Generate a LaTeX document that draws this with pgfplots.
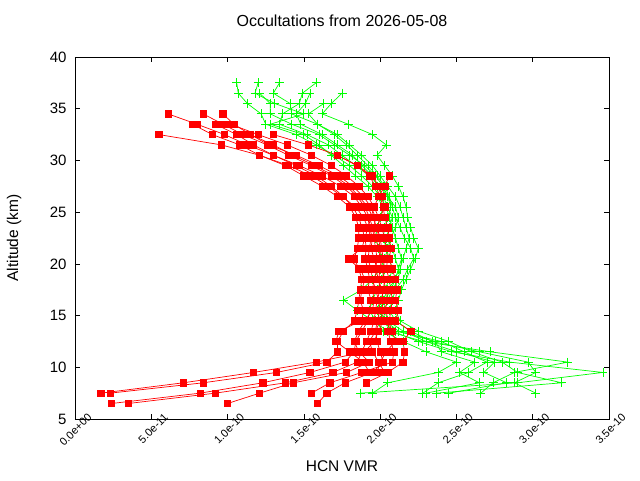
\documentclass[border=0pt]{standalone}
\usepackage{fontspec}
\setmainfont{Liberation Sans}
\usepackage{pgfplots}
\pgfplotsset{compat=1.18}
\definecolor{gpgreen}{RGB}{0,255,0}
\definecolor{gpred}{RGB}{255,0,0}
\begin{document}
\begin{tikzpicture}
\path[use as bounding box] (-75pt,-61pt) rectangle (565pt,419pt);
\begin{axis}[
  at={(0pt,0pt)}, anchor=south west,
  scale only axis, width=534pt, height=362pt,
  xmin=0, xmax=3.5, ymin=5, ymax=40,
  xtick={0,0.5,1,1.5,2,2.5,3,3.5},
  xticklabels={0.0e+00,5.0e-11,1.0e-10,1.5e-10,2.0e-10,2.5e-10,3.0e-10,3.5e-10},
  ytick={5,10,15,20,25,30,35,40},
  tick align=inside, major tick length=5pt,
  axis line style={line width=0.9pt},
  every tick/.style={black, line width=0.7pt},
  /pgf/number format/assume math mode=true,
  yticklabel style={font=\fontsize{15}{17}\selectfont, xshift=-5pt},
  xticklabel style={font=\fontsize{11}{13}\selectfont, rotate=45, anchor=east, inner sep=0pt, xshift=13pt, yshift=-8pt},
  xlabel={HCN VMR}, ylabel={Altitude (km)},
  xlabel style={font=\fontsize{15.5}{17}\selectfont, at={(axis description cs:0.5,-0.1298)}, anchor=center},
  ylabel style={font=\fontsize{15.5}{17}\selectfont, at={(axis description cs:-0.1142,0.5)}, anchor=center},
  title={Occultations from 2026-05-08},
  title style={font=\fontsize{16}{18}\selectfont, at={(axis description cs:0.5,1.0829)}, anchor=center},
  clip=true,
  green/.style={color=gpgreen, line width=0.7pt, mark=+, mark size=4.5pt, mark options={line width=0.8pt}},
  red/.style={color=gpred, line width=0.7pt, mark=square*, mark size=3.2pt},
]
% green profiles
\addplot[green] coordinates {(1.06,37.5)(1.07,36.5)(1.13,35.5)(1.22,34.5)(1.25,33.5)(1.45,32.5)(1.58,31.5)(1.70,30.5)(1.80,29.5)(1.88,28.5)(1.95,27.5)(2.00,26.5)(2.04,25.5)(2.06,24.5)(2.08,23.5)(2.10,22.5)(2.12,21.5)(2.14,20.5)(2.12,19.5)(2.10,18.5)(2.05,17.5)(2.02,16.5)(2.00,15.5)(2.02,14.5)(2.08,13.5)(2.25,12.5)(2.47,11.5)(2.85,10.5)(3.46,9.5)(2.90,8.5)(1.87,7.5)};
\addplot[green] coordinates {(1.34,37.5)(1.30,36.5)(1.41,35.5)(1.42,34.5)(1.59,33.5)(1.70,32.5)(1.78,31.5)(1.85,30.5)(1.92,29.5)(1.98,28.5)(2.03,27.5)(2.06,26.5)(2.08,25.5)(2.10,24.5)(2.13,23.5)(2.16,22.5)(2.20,21.5)(2.22,20.5)(2.18,19.5)(2.15,18.5)(2.10,17.5)(2.08,16.5)(2.06,15.5)(2.10,14.5)(2.20,13.5)(2.34,12.5)(2.65,11.5)(2.97,10.5)(3.02,9.5)(2.88,8.5)(3.02,7.5)};
\addplot[green] coordinates {(1.58,37.5)(1.49,36.5)(1.47,35.5)(1.36,34.5)(1.34,33.5)(1.52,32.5)(1.66,31.5)(1.75,30.5)(1.84,29.5)(1.93,28.5)(2.00,27.5)(2.05,26.5)(2.10,25.5)(2.12,24.5)(2.10,23.5)(2.07,22.5)(2.05,21.5)(2.03,20.5)(2.00,19.5)(1.95,18.5)(1.88,17.5)(1.76,16.5)(1.85,15.5)(1.95,14.5)(2.05,13.5)(2.28,12.5)(2.72,11.5)(3.23,10.5)(2.88,9.5)(2.74,8.5)(2.66,7.5)};
\addplot[green] coordinates {(1.21,36.5)(1.28,35.5)(1.28,34.5)(1.42,33.5)(1.60,32.5)(1.70,31.5)(1.80,30.5)(1.90,29.5)(1.97,28.5)(2.02,27.5)(2.05,26.5)(2.07,25.5)(2.05,24.5)(2.03,23.5)(2.02,22.5)(2.04,21.5)(2.06,20.5)(2.08,19.5)(2.06,18.5)(2.03,17.5)(2.00,16.5)(1.98,15.5)(2.00,14.5)(2.10,13.5)(2.40,12.5)(2.55,11.5)(2.70,10.5)(2.58,9.5)(2.38,8.5)(2.28,7.5)};
\addplot[green] coordinates {(1.75,36.5)(1.68,35.5)(1.62,34.5)(1.79,33.5)(1.95,32.5)(2.04,31.5)(1.98,30.5)(2.03,29.5)(2.08,28.5)(2.12,27.5)(2.15,26.5)(2.17,25.5)(2.18,24.5)(2.20,23.5)(2.22,22.5)(2.25,21.5)(2.23,20.5)(2.20,19.5)(2.17,18.5)(2.14,17.5)(2.12,16.5)(2.10,15.5)(2.13,14.5)(2.25,13.5)(2.45,12.5)(2.60,11.5)(2.80,10.5)(2.90,9.5)(3.19,8.5)(2.37,7.5)};
\addplot[green] coordinates {(1.20,37.5)(1.18,36.5)(1.31,35.5)(1.50,34.5)(1.28,33.5)(1.50,32.5)(1.60,31.5)(1.68,30.5)(1.76,29.5)(1.84,28.5)(1.92,27.5)(1.98,26.5)(2.02,25.5)(2.00,24.5)(1.98,23.5)(1.97,22.5)(1.99,21.5)(2.01,20.5)(2.03,19.5)(2.01,18.5)(1.98,17.5)(1.95,16.5)(1.93,15.5)(1.97,14.5)(2.02,13.5)(2.15,12.5)(2.30,11.5)(2.50,10.5)(2.38,9.5)(2.05,8.5)(1.95,7.5)};
\addplot[green] coordinates {(1.63,35.5)(1.53,34.5)(1.59,33.5)(1.72,32.5)(1.80,31.5)(1.88,30.5)(1.95,29.5)(2.00,28.5)(2.05,27.5)(2.10,26.5)(2.13,25.5)(2.15,24.5)(2.17,23.5)(2.19,22.5)(2.17,21.5)(2.15,20.5)(2.13,19.5)(2.12,18.5)(2.08,17.5)(2.05,16.5)(2.03,15.5)(2.05,14.5)(2.15,13.5)(2.30,12.5)(2.50,11.5)(2.75,10.5)(2.68,9.5)(2.83,8.5)(2.45,7.5)};
\addplot[green] coordinates {(1.54,36.5)(1.51,35.5)(1.45,34.5)(1.48,33.5)(1.62,32.5)(1.72,31.5)(1.82,30.5)(1.88,29.5)(1.95,28.5)(1.98,27.5)(2.02,26.5)(2.05,25.5)(2.08,24.5)(2.06,23.5)(2.04,22.5)(2.08,21.5)(2.10,20.5)(2.12,19.5)(2.10,18.5)(2.07,17.5)(2.03,16.5)(2.00,15.5)(2.03,14.5)(2.12,13.5)(2.36,12.5)(2.40,11.5)(2.62,10.5)(2.52,9.5)(2.65,8.5)(2.30,7.5)};
% red profiles
\addplot[red] coordinates {(0.61,34.5)(0.80,33.5)(0.98,32.5)(1.13,31.5)(1.30,30.5)(1.45,29.5)(1.58,28.5)(1.68,27.5)(1.76,26.5)(1.82,25.5)(1.86,24.5)(1.88,23.5)(1.90,22.5)(1.91,21.5)(1.90,20.5)(1.92,19.5)(1.93,18.5)(1.92,17.5)(1.94,16.5)(1.93,15.5)(1.92,14.5)(1.88,13.5)(1.84,12.5)(1.83,11.5)(1.77,10.5)(1.54,9.5)(1.23,8.5)(0.82,7.5)(0.24,6.5)};
\addplot[red] coordinates {(0.84,34.5)(0.97,33.5)(1.10,32.5)(1.26,31.5)(1.40,30.5)(1.55,29.5)(1.68,28.5)(1.78,27.5)(1.85,26.5)(1.90,25.5)(1.93,24.5)(1.95,23.5)(1.96,22.5)(1.97,21.5)(1.98,20.5)(1.97,19.5)(1.99,18.5)(2.00,17.5)(1.98,16.5)(1.97,15.5)(1.96,14.5)(1.94,13.5)(1.91,12.5)(1.88,11.5)(1.85,10.5)(1.69,9.5)(1.38,8.5)(0.92,7.5)(0.35,6.5)};
\addplot[red] coordinates {(0.97,34.5)(1.04,33.5)(1.15,32.5)(1.30,31.5)(1.43,30.5)(1.57,29.5)(1.70,28.5)(1.80,27.5)(1.86,26.5)(1.92,25.5)(1.95,24.5)(1.98,23.5)(2.00,22.5)(2.01,21.5)(2.02,20.5)(2.03,19.5)(2.02,18.5)(2.04,17.5)(2.05,16.5)(2.03,15.5)(2.02,14.5)(1.99,13.5)(1.96,12.5)(1.90,11.5)(1.58,10.5)(1.17,9.5)(0.71,8.5)(0.17,7.5)};
\addplot[red] coordinates {(0.77,33.5)(0.90,32.5)(1.08,31.5)(1.21,30.5)(1.38,29.5)(1.50,28.5)(1.62,27.5)(1.72,26.5)(1.80,25.5)(1.84,24.5)(1.86,23.5)(1.86,22.5)(1.85,21.5)(1.83,20.5)(1.86,19.5)(1.88,18.5)(1.87,17.5)(1.86,16.5)(1.85,15.5)(1.83,14.5)(1.76,13.5)(1.72,12.5)(1.72,11.5)(1.65,10.5)(1.32,9.5)(0.84,8.5)(0.23,7.5)};
\addplot[red] coordinates {(0.92,33.5)(1.06,32.5)(1.17,31.5)(1.30,30.5)(1.47,29.5)(1.62,28.5)(1.74,27.5)(1.83,26.5)(1.88,25.5)(1.92,24.5)(1.93,23.5)(1.95,22.5)(1.94,21.5)(1.96,20.5)(1.98,19.5)(1.96,18.5)(1.95,17.5)(1.96,16.5)(1.95,15.5)(1.90,14.5)(1.86,13.5)(1.83,12.5)(1.86,11.5)(1.93,10.5)(1.78,9.5)(1.43,8.5)(1.21,7.5)(1.00,6.5)};
\addplot[red] coordinates {(0.55,32.5)(0.96,31.5)(1.21,30.5)(1.40,29.5)(1.55,28.5)(1.66,27.5)(1.75,26.5)(1.84,25.5)(1.89,24.5)(1.92,23.5)(1.94,22.5)(1.93,21.5)(1.92,20.5)(1.94,19.5)(1.95,18.5)(1.97,17.5)(1.99,16.5)(2.00,15.5)(1.98,14.5)(1.97,13.5)(1.98,12.5)(2.00,11.5)(2.02,10.5)(1.95,9.5)(1.77,8.5)(1.65,7.5)(1.59,6.5)};
\addplot[red] coordinates {(1.02,33.5)(1.20,32.5)(1.39,31.5)(1.55,30.5)(1.68,29.5)(1.78,28.5)(1.86,27.5)(1.92,26.5)(1.96,25.5)(1.99,24.5)(2.01,23.5)(2.03,22.5)(2.04,21.5)(2.05,20.5)(2.04,19.5)(2.06,18.5)(2.07,17.5)(2.08,16.5)(2.07,15.5)(2.06,14.5)(2.05,13.5)(2.07,12.5)(2.09,11.5)(2.08,10.5)(1.88,9.5)(1.67,8.5)(1.55,7.5)};
\addplot[red] coordinates {(1.30,32.5)(1.53,31.5)(1.72,30.5)(1.85,29.5)(1.93,28.5)(1.97,27.5)(2.00,26.5)(2.02,25.5)(2.03,24.5)(2.05,23.5)(2.06,22.5)(2.07,21.5)(2.06,20.5)(2.08,19.5)(2.10,18.5)(2.11,17.5)(2.10,16.5)(2.12,15.5)(2.10,14.5)(2.20,13.5)(2.15,12.5)(2.16,11.5)(2.15,10.5)(2.05,9.5)(1.91,8.5)};
\addplot[red] coordinates {(1.72,30.5)(1.85,29.5)(1.95,28.5)(1.99,27.5)(2.01,26.5)(2.03,25.5)(2.00,24.5)(1.98,23.5)(1.99,22.5)(2.00,21.5)(2.01,20.5)(2.00,19.5)(1.99,18.5)(2.01,17.5)(2.02,16.5)(2.04,15.5)(2.05,14.5)(2.08,13.5)(2.10,12.5)(2.04,11.5)(2.00,10.5)(1.98,9.5)};
\addplot[red] coordinates {(2.06,28.5)(2.03,27.5)(1.99,26.5)(1.96,25.5)(1.94,24.5)(1.92,23.5)(1.90,22.5)(1.88,21.5)(1.79,20.5)(1.87,19.5)(1.90,18.5)(1.88,17.5)(1.87,16.5)(1.89,15.5)(1.88,14.5)(1.73,13.5)(1.71,12.5)(1.80,11.5)(1.89,10.5)(1.93,9.5)};
\addplot[red] coordinates {(1.15,32.5)(1.27,31.5)(1.45,30.5)(1.60,29.5)(1.73,28.5)(1.82,27.5)(1.89,26.5)(1.94,25.5)(1.97,24.5)(1.96,23.5)(1.97,22.5)(1.99,21.5)(2.00,20.5)(2.01,19.5)(2.03,18.5)(2.02,17.5)(2.01,16.5)(2.02,15.5)(2.00,14.5)(1.97,13.5)(1.93,12.5)(1.95,11.5)(1.99,10.5)(2.03,9.5)};
\end{axis}
\end{tikzpicture}
\end{document}
